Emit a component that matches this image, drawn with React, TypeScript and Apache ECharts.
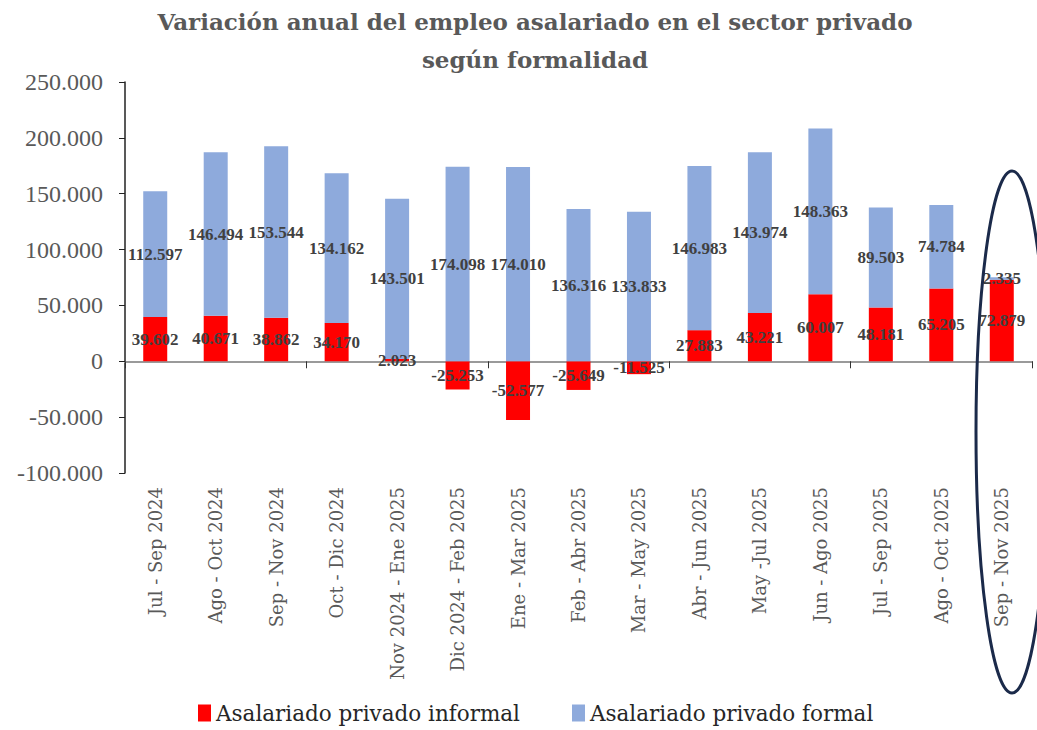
import React, { useEffect, useRef } from "react";
import * as echarts from "echarts";

const categories = [
  "Jul - Sep 2024",
  "Ago - Oct 2024",
  "Sep - Nov 2024",
  "Oct - Dic 2024",
  "Nov 2024 - Ene 2025",
  "Dic 2024 - Feb 2025",
  "Ene - Mar 2025",
  "Feb - Abr 2025",
  "Mar - May 2025",
  "Abr - Jun 2025",
  "May -Jul 2025",
  "Jun - Ago 2025",
  "Jul - Sep 2025",
  "Ago - Oct 2025",
  "Sep - Nov 2025",
];

const informal = [
  39602, 40671, 38862, 34170, 2023, -25253, -52577, -25649, -11525, 27883,
  43221, 60007, 48181, 65205, 72879,
];

const formal = [
  112597, 146494, 153544, 134162, 143501, 174098, 174010, 136316, 133833,
  146983, 143974, 148363, 89503, 74784, 2335,
];

const fmt = (v: number): string => {
  const s = Math.abs(Math.round(v))
    .toString()
    .replace(/\B(?=(\d{3})+(?!\d))/g, ".");
  return (v < 0 ? "-" : "") + s;
};

export default function App() {
  const ref = useRef<HTMLDivElement>(null);
  useEffect(() => {
    document.body.style.margin = "0";
    const chart = echarts.init(ref.current!, null, { renderer: "svg" });
    const serif = "DejaVu Serif";
    const labelStyle = {
      show: true,
      position: "inside",
      color: "#404040",
      fontFamily: "Liberation Serif",
      fontWeight: "bold",
      fontSize: 17,
      formatter: (p: any) => fmt(p.value),
    };
    chart.setOption({
      animation: false,
      title: {
        text: "Variación anual del empleo asalariado en el sector privado\nsegún formalidad",
        left: 530,
        top: -3,
        textAlign: "center",
        textStyle: {
          fontFamily: serif,
          fontWeight: "bold",
          fontSize: 23,
          lineHeight: 38,
          color: "#595959",
        },
      },
      legend: {
        bottom: 1,
        left: 193,
        itemGap: 52,
        itemWidth: 13,
        itemHeight: 17,
        icon: "rect",
        textStyle: { fontFamily: serif, fontSize: 21.5, color: "#262626" },
        data: ["Asalariado privado informal", "Asalariado privado formal"],
      },
      grid: { left: 125, right: 5, top: 82, bottom: 257, containLabel: false },
      xAxis: [
        {
          type: "category",
          data: categories,
          position: "bottom",
          axisLine: { onZero: true, lineStyle: { color: "#9a9a9a", width: 2 } },
          axisTick: { show: true, length: 7, lineStyle: { color: "#333", width: 1 } },
          axisLabel: { show: false },
        },
        {
          type: "category",
          data: categories,
          position: "bottom",
          axisLine: { show: false, onZero: false },
          axisTick: { show: false },
          axisLabel: {
            show: true,
            interval: 0,
            rotate: 90,
            margin: 14,
            fontFamily: serif,
            fontSize: 18,
            color: "#595959",
          },
        },
      ],
      yAxis: {
        type: "value",
        min: -100000,
        max: 250000,
        interval: 50000,
        axisLine: { show: true, lineStyle: { color: "#222", width: 1.5 } },
        axisTick: { show: true, length: 6, lineStyle: { color: "#222" } },
        splitLine: { show: false },
        axisLabel: {
          formatter: (v: number) => fmt(v),
          fontFamily: "Liberation Serif",
          fontSize: 24,
          color: "#595959",
          margin: 22,
        },
      },
      series: [
        {
          name: "Asalariado privado informal",
          type: "bar",
          stack: "total",
          xAxisIndex: 0,
          data: informal,
          barWidth: 24,
          itemStyle: { color: "#ff0000" },
          label: labelStyle,
        },
        {
          name: "Asalariado privado formal",
          type: "bar",
          stack: "total",
          xAxisIndex: 0,
          data: formal,
          barWidth: 24,
          itemStyle: { color: "#8eaadc" },
          label: labelStyle,
        },
      ],
      graphic: [
        {
          type: "ellipse",
          shape: { cx: 1012, cy: 432, rx: 36, ry: 261 },
          style: { fill: "none", stroke: "#1b2a4a", lineWidth: 3 },
          z: 100,
        },
      ],
    });
    return () => chart.dispose();
  }, []);
  return (
    <div
      ref={ref}
      style={{ position: "absolute", left: 0, top: 0, width: 1037, height: 730 }}
    />
  );
}
